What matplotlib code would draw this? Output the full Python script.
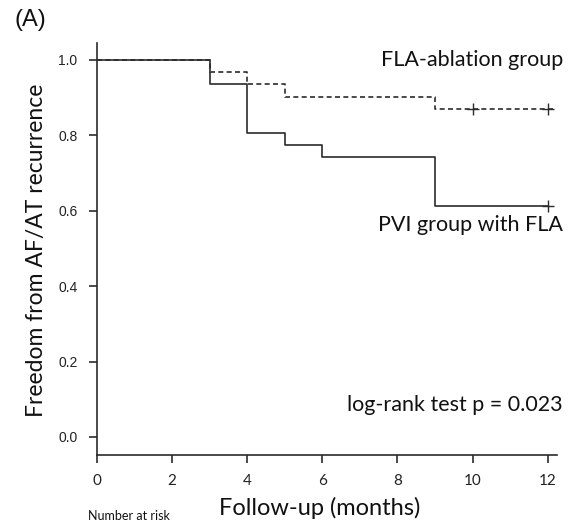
import matplotlib
matplotlib.use('Agg')
import matplotlib.pyplot as plt

# Kaplan-Meier step data (time in months, survival fraction)
pvi_times = [0, 3, 4, 5, 6, 9, 12]
pvi_surv = [1.0, 0.935, 0.806, 0.774, 0.742, 0.613, 0.613]
pvi_censor_t = [12]
pvi_censor_s = [0.613]

fla_times = [0, 3, 4, 5, 9, 12, 12.15]
fla_surv = [1.0, 0.968, 0.935, 0.903, 0.871, 0.871, 0.871]
fla_censor_t = [10, 12]
fla_censor_s = [0.871, 0.871]

x_ticks = [0, 2, 4, 6, 8, 10, 12]
y_ticks = [0.0, 0.2, 0.4, 0.6, 0.8, 1.0]

W, H = 575, 524
fig = plt.figure(figsize=(W / 100, H / 100), dpi=100)
ax = fig.add_axes([97 / W, 1 - 455 / H, (557 - 97) / W, (455 - 43) / H])

line_col = '#2b2b2b'
ax.step(pvi_times, pvi_surv, where='post', color=line_col, lw=1.2)
ax.plot(pvi_censor_t, pvi_censor_s, '+', color=line_col, ms=9, mew=1.0)
ax.step(fla_times, fla_surv, where='post', color=line_col, lw=1.2, ls=(0, (3, 2)))
ax.plot(fla_censor_t, fla_censor_s, '+', color=line_col, ms=9, mew=1.0)

ax.set_xlim(0, 12.25)
ax.set_ylim(-0.048, 1.045)
ax.set_xticks(x_ticks)
ax.set_yticks(y_ticks)
ax.set_yticklabels([f"{v:.1f}" for v in y_ticks])
for s in ('top', 'right'):
    ax.spines[s].set_visible(False)
for s in ('left', 'bottom'):
    ax.spines[s].set_color(line_col)
    ax.spines[s].set_linewidth(1.2)
ax.tick_params(colors=line_col, length=6, width=1.2, pad=8)
for lab in ax.get_yticklabels():
    lab.set_family('Liberation Sans')
    lab.set_fontsize(10)
    lab.set_color('#222222')
for lab in ax.get_xticklabels():
    lab.set_family('Lato')
    lab.set_fontsize(11)
    lab.set_color('#222222')

txt = dict(family='Lato', fontsize=15.5, color='#111111', ha='right', va='center')
ax.text(12.41, 1.0, 'FLA-ablation group', **txt)
ax.text(12.41, 0.562, 'PVI group with FLA', **txt)
ax.text(12.41, 0.085, 'log-rank test p = 0.023', **txt)

fig.text(37 / W, 1 - 250 / H, 'Freedom from AF/AT recurrence', family='Lato', fontsize=16.5,
         rotation=90, ha='center', va='center', color='#111111')
fig.text(320 / W, 1 - 508 / H, 'Follow-up (months)', family='Lato', fontsize=17,
         ha='center', va='center', color='#111111')
fig.text(14 / W, 1 - 20 / H, '(A)', family='Liberation Sans', fontsize=17,
         ha='left', va='center', color='#111111')
fig.text(88 / W, 1 - 522 / H, 'Number at risk', family='Lato', fontsize=9,
         ha='left', va='bottom', color='#111111')

fig.savefig('out.png', dpi=100)
